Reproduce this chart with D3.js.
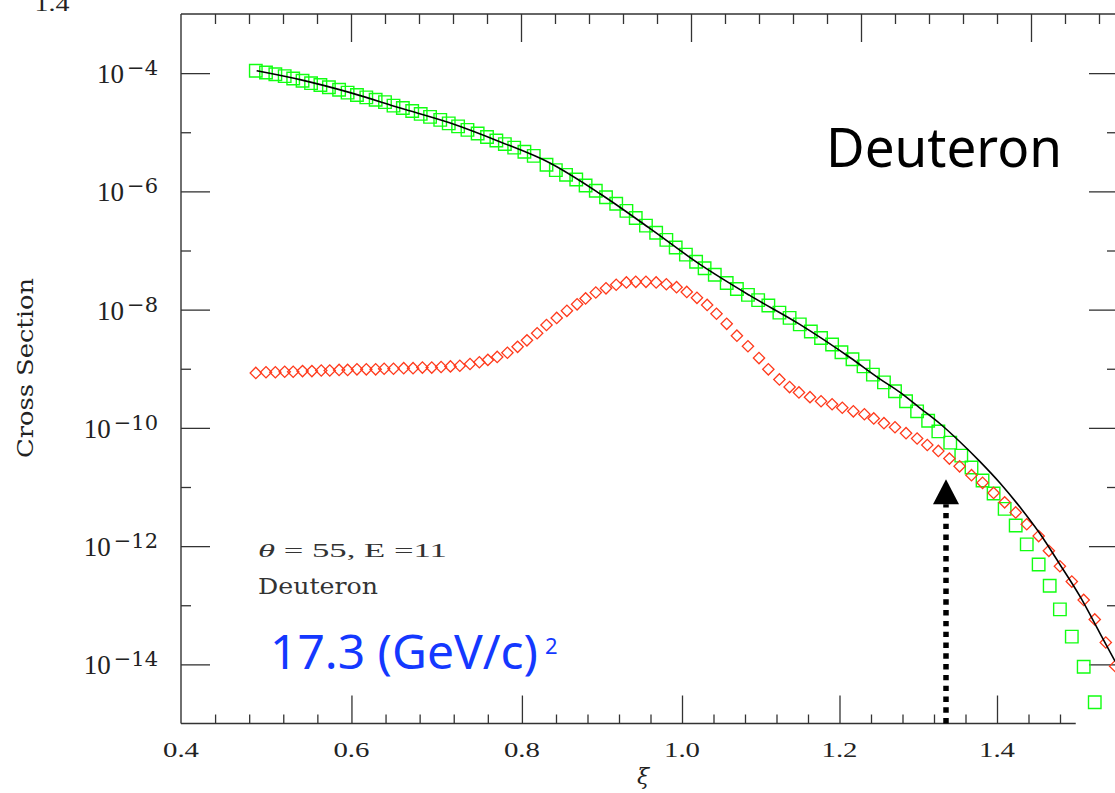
<!DOCTYPE html>
<html><head><meta charset="utf-8">
<script src="https://cdn.jsdelivr.net/npm/d3@7"></script>
<style>body{margin:0;background:#fff;} svg{display:block;}</style>
</head><body>
<svg id="c" width="1115" height="793"></svg>
<script>
// ---------------- data ----------------
const greenXi = [0.488,0.500,0.511,0.522,0.532,0.543,0.553,0.564,0.574,0.586,
  0.596,0.607,0.618,0.629,0.640,0.650,0.661,0.672,0.682,0.693,
  0.705,0.715,0.726,0.737,0.749,0.760,0.771,0.781,0.792,0.804,
  0.815,0.830,0.841,0.853,0.865,0.876,0.888,0.900,0.912,0.924,
  0.935,0.947,0.959,0.971,0.982,0.994,1.006,1.016,1.028,1.042,
  1.054,1.067,1.079,1.091,1.104,1.116,1.128,1.141,1.153,1.166,
  1.177,1.190,1.203,1.214,1.227,1.240,1.253,1.266,1.279,1.291,
  1.305,1.318,1.330,1.343,1.356,1.369,1.382,1.395,1.409,1.422,
  1.434,1.448,1.462,1.475];
const greenLog10 = [-3.96,-3.99,-4.02,-4.05,-4.09,-4.13,-4.17,-4.20,-4.24,-4.28,
  -4.33,-4.37,-4.41,-4.45,-4.49,-4.55,-4.59,-4.64,-4.69,-4.74,
  -4.79,-4.85,-4.90,-4.96,-5.02,-5.08,-5.14,-5.20,-5.26,-5.33,
  -5.40,-5.55,-5.64,-5.72,-5.80,-5.90,-5.99,-6.10,-6.21,-6.33,
  -6.45,-6.58,-6.70,-6.82,-6.95,-7.07,-7.19,-7.30,-7.41,-7.55,
  -7.65,-7.75,-7.84,-7.93,-8.05,-8.14,-8.25,-8.37,-8.48,-8.59,
  -8.72,-8.84,-8.96,-9.10,-9.23,-9.38,-9.55,-9.72,-9.88,-10.06,
  -10.25,-10.47,-10.67,-10.89,-11.11,-11.37,-11.65,-11.97,-12.31,-12.67,
  -13.07,-13.53,-14.04,-14.64];

const redXi = [0.488,0.500,0.511,0.522,0.532,0.543,0.554,0.565,0.575,0.586,
  0.596,0.607,0.618,0.629,0.639,0.650,0.662,0.673,0.684,0.695,
  0.706,0.717,0.728,0.740,0.751,0.761,0.772,0.784,0.796,0.807,
  0.819,0.830,0.842,0.854,0.866,0.876,0.888,0.900,0.912,0.924,
  0.935,0.947,0.959,0.971,0.983,0.995,1.007,1.019,1.030,1.042,
  1.054,1.067,1.080,1.091,1.104,1.116,1.127,1.140,1.153,1.166,
  1.178,1.191,1.204,1.215,1.227,1.240,1.253,1.266,1.278,1.291,
  1.304,1.316,1.330,1.343,1.356,1.369,1.382,1.395,1.409,1.421,
  1.434,1.448,1.462,1.475,1.488,1.499];
const redLog10 = [-9.07,-9.06,-9.06,-9.05,-9.05,-9.04,-9.04,-9.03,-9.03,-9.02,
  -9.02,-9.01,-9.01,-9.01,-9.00,-9.00,-8.99,-8.99,-8.98,-8.98,
  -8.97,-8.96,-8.95,-8.92,-8.89,-8.85,-8.80,-8.73,-8.63,-8.52,
  -8.40,-8.26,-8.14,-8.02,-7.91,-7.81,-7.71,-7.64,-7.58,-7.54,
  -7.53,-7.53,-7.54,-7.57,-7.62,-7.70,-7.80,-7.92,-8.07,-8.24,
  -8.44,-8.62,-8.82,-9.01,-9.18,-9.31,-9.40,-9.48,-9.55,-9.60,
  -9.66,-9.72,-9.77,-9.84,-9.92,-9.99,-10.09,-10.18,-10.29,-10.39,
  -10.52,-10.65,-10.80,-10.93,-11.10,-11.26,-11.43,-11.63,-11.83,-12.08,
  -12.34,-12.60,-12.91,-13.24,-13.63,-14.03];

const curveXi = [0.489,0.540,0.599,0.658,0.716,0.775,0.834,0.893,0.952,1.011,
  1.069,1.128,1.187,1.222,1.246,1.269,1.293,1.316,1.340,1.364,
  1.387,1.411,1.434,1.458,1.481,1.499];
const curveLog10 = [-3.96,-4.11,-4.33,-4.59,-4.84,-5.16,-5.52,-6.04,-6.63,-7.24,
  -7.76,-8.25,-8.81,-9.17,-9.40,-9.66,-9.93,-10.23,-10.57,-10.94,
  -11.34,-11.80,-12.31,-12.86,-13.47,-13.95];

const xMajorTicks = [0.4,0.6,0.8,1.0,1.2,1.4];
const xTickLabels = ["0.4","0.6","0.8","1.0","1.2","1.4"];
const yMajorExps = [-4,-6,-8,-10,-12,-14];
const yMinorExps = [-5,-7,-9,-11,-13];
const yTickLabels = ["\u22124","\u22126","\u22128","\u221210","\u221212","\u221214"];
const arrowXi = 1.3;
const arrowTipLog10 = -10.87;

// ---------------- layout ----------------
const svg = d3.select("#c");
const L = 181, T = 14, B = 723.5, R = 1116;
const x = d3.scaleLinear().domain([0.4, 1.5]).range([L, R]);
// the bottom axis of the picture is drawn with a slightly compressed scale beyond 0.84
const xb = d3.scaleLinear().domain([0.4, 0.84, 1.5]).range([L, 556, 1075.75]);
const y = d3.scaleLog().domain([1e-15, 1e-3]).range([B, T]);

const axisColor = "#333";
const minorX = d3.range(11, 38).map(i => +(i * 0.04).toFixed(2)).filter(v => Math.abs(v/0.2 - Math.round(v/0.2)) > 1e-6);

function styleAxis(g) {
  g.select(".domain").remove();
  g.selectAll("line").attr("stroke", axisColor).attr("stroke-width", 1.3);
  return g;
}

// bottom axis ticks
styleAxis(svg.append("g").attr("transform", `translate(0,${B})`)
  .call(d3.axisBottom(xb).tickValues(minorX).tickSize(-9).tickFormat("")));
styleAxis(svg.append("g").attr("transform", `translate(0,${B})`)
  .call(d3.axisBottom(xb).tickValues(xMajorTicks.slice(1)).tickSize(-28).tickFormat("")));
// top axis ticks
styleAxis(svg.append("g").attr("transform", `translate(0,${T})`)
  .call(d3.axisTop(x).tickValues(minorX).tickSize(-10).tickFormat("")));
styleAxis(svg.append("g").attr("transform", `translate(0,${T})`)
  .call(d3.axisTop(x).tickValues(xMajorTicks.slice(1)).tickSize(-28).tickFormat("")));
// left axis ticks
styleAxis(svg.append("g").attr("transform", `translate(${L},0)`)
  .call(d3.axisLeft(y).tickValues(yMinorExps.map(e => Math.pow(10, e))).tickSize(-10).tickFormat("")));
styleAxis(svg.append("g").attr("transform", `translate(${L},0)`)
  .call(d3.axisLeft(y).tickValues(yMajorExps.map(e => Math.pow(10, e))).tickSize(-29).tickFormat("")));
// right axis ticks
styleAxis(svg.append("g").attr("transform", `translate(${R},0)`)
  .call(d3.axisRight(y).tickValues(yMinorExps.map(e => Math.pow(10, e))).tickSize(-9).tickFormat("")));
styleAxis(svg.append("g").attr("transform", `translate(${R},0)`)
  .call(d3.axisRight(y).tickValues(yMajorExps.map(e => Math.pow(10, e))).tickSize(-27).tickFormat("")));

// frame
const frame = svg.append("g").attr("stroke", axisColor).attr("stroke-width", 1.4);
frame.append("line").attr("x1", L).attr("x2", L).attr("y1", T).attr("y2", B);
frame.append("line").attr("x1", L).attr("x2", R).attr("y1", T).attr("y2", T);
frame.append("line").attr("x1", L).attr("x2", xb(1.5)).attr("y1", B).attr("y2", B);
frame.append("line").attr("x1", R).attr("x2", R).attr("y1", T).attr("y2", B);

// x tick labels
svg.append("g").selectAll("text").data(xMajorTicks).join("text")
  .attr("x", d => xb(d)).attr("y", B + 33)
  .attr("text-anchor", "middle")
  .attr("font-family", "Liberation Serif, serif").attr("font-size", 21)
  .attr("textLength", 36).attr("lengthAdjust", "spacingAndGlyphs")
  .attr("fill", "#222")
  .text((d, i) => xTickLabels[i]);

// cut-off label at the top-left corner (from a panel above), as in the reference
svg.append("text").attr("x", 52).attr("y", 11).attr("text-anchor", "middle")
  .attr("font-family", "Liberation Serif, serif").attr("font-size", 21)
  .attr("textLength", 35).attr("lengthAdjust", "spacingAndGlyphs")
  .attr("fill", "#222").text("1.4");

// y tick labels
const yl = svg.append("g").selectAll("text").data(yMajorExps).join("text")
  .attr("x", 158).attr("y", d => y(Math.pow(10, d)) + 10)
  .attr("text-anchor", "end").attr("fill", "#222");
yl.append("tspan").attr("font-family", "Liberation Serif, serif").attr("font-size", 27).text("10");
yl.append("tspan").attr("font-family", "DejaVu Serif, serif").attr("font-size", 21)
  .attr("dx", 3).attr("dy", -8).text((d, i) => yTickLabels[i]);

// axis titles
svg.append("text").attr("transform", "translate(33,368) rotate(-90)")
  .attr("text-anchor", "middle").attr("font-family", "DejaVu Serif, serif").attr("font-size", 22)
  .attr("textLength", 180).attr("lengthAdjust", "spacingAndGlyphs")
  .attr("fill", "#222").text("Cross Section");
svg.append("text").attr("x", 643).attr("y", 784).attr("text-anchor", "middle")
  .attr("font-family", "DejaVu Serif, serif").attr("font-style", "italic").attr("font-size", 22)
  .attr("fill", "#222").text("\u03BE");

// black model curve
const line = d3.line().x(d => x(d[0])).y(d => y(Math.pow(10, d[1]))).curve(d3.curveMonotoneX);
const curvePts = curveXi.map((v, i) => [v, curveLog10[i]]);

// green squares
svg.append("g").selectAll("path").data(greenXi.map((v, i) => [v, greenLog10[i]])).join("path")
  .attr("d", d3.symbol(d3.symbolSquare, 156)())
  .attr("transform", d => `translate(${x(d[0])},${y(Math.pow(10, d[1]))})`)
  .attr("fill", "none").attr("stroke", "#11ff11").attr("stroke-width", 1.4);

// red diamonds
svg.append("g").selectAll("path").data(redXi.map((v, i) => [v, redLog10[i]])).join("path")
  .attr("d", d3.symbol(d3.symbolSquare, 64)())
  .attr("transform", d => `translate(${x(d[0])},${y(Math.pow(10, d[1]))}) rotate(45)`)
  .attr("fill", "none").attr("stroke", "#ff3a1c").attr("stroke-width", 1.3);

svg.append("path").datum(curvePts).attr("d", line)
  .attr("fill", "none").attr("stroke", "#000").attr("stroke-width", 1.6);

// arrow at xi = 1.3
const ax = x(arrowXi), tipY = y(Math.pow(10, arrowTipLog10));
svg.append("line").attr("x1", ax).attr("x2", ax).attr("y1", B).attr("y2", tipY + 25)
  .attr("stroke", "#000").attr("stroke-width", 5.5).attr("stroke-dasharray", "5.4,5.4");
svg.append("path").attr("d", `M${ax},${tipY} L${ax - 13},${tipY + 25} L${ax + 13},${tipY + 25} Z`)
  .attr("fill", "#000");

// annotations
const ann = svg.append("text").attr("x", 258).attr("y", 557)
  .attr("font-family", "Liberation Serif, serif").attr("font-size", 19).attr("fill", "#333")
  .attr("textLength", 189).attr("lengthAdjust", "spacingAndGlyphs");
ann.append("tspan").attr("font-style", "italic").text("\u03B8");
ann.append("tspan").text(" = 55, E =11");
svg.append("text").attr("x", 258).attr("y", 594)
  .attr("font-family", "DejaVu Serif, serif").attr("font-size", 23).attr("fill", "#333")
  .attr("textLength", 120).attr("lengthAdjust", "spacingAndGlyphs").text("Deuteron");

svg.append("text").attr("x", 826).attr("y", 167)
  .attr("font-family", "Noto Sans, sans-serif").attr("font-size", 54).attr("fill", "#000")
  .attr("textLength", 236).attr("lengthAdjust", "spacingAndGlyphs").text("Deuteron");

svg.append("text").attr("x", 270).attr("y", 669)
  .attr("font-family", "Noto Sans, sans-serif").attr("font-size", 47).attr("fill", "#1438ff")
  .attr("textLength", 268).attr("lengthAdjust", "spacingAndGlyphs").text("17.3 (GeV/c)");
svg.append("text").attr("x", 545).attr("y", 654)
  .attr("font-family", "Noto Sans, sans-serif").attr("font-size", 22).attr("fill", "#1438ff")
  .text("2");
</script>
</body></html>
